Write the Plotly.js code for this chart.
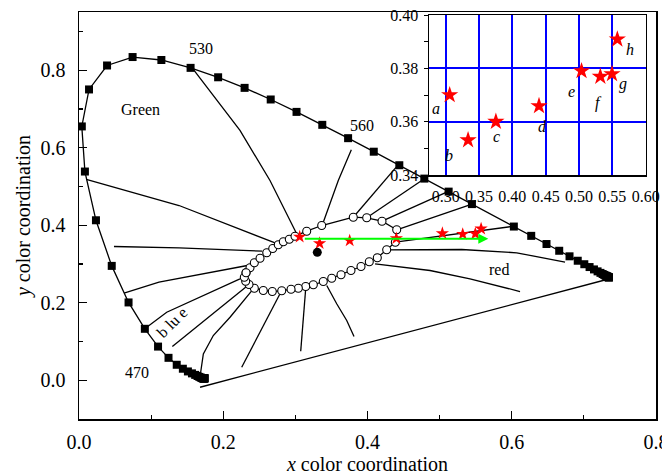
<!DOCTYPE html>
<html>
<head>
<meta charset="utf-8">
<script src="https://cdn.plot.ly/plotly-3.0.1.min.js"></script>
<style>html,body{margin:0;padding:0;background:#fff;}#chart{width:662px;height:476px;}</style>
</head>
<body>
<div id="chart"></div>
<script>
// Spectral locus (nm, x, y)
const wavelengths = [380,385,390,395,400,405,410,415,420,425,430,435,440,445,450,455,460,465,470,475,480,485,490,495,500,505,510,515,520,525,530,535,540,545,550,555,560,565,570,575,580,585,595,600,605,610,615,620,625,630,635,640,645,650,655,660,665,670,675,680,685,690,695,700];
const locusX = [0.1741,0.1740,0.1738,0.1736,0.1733,0.1730,0.1726,0.1721,0.1714,0.1703,0.1689,0.1669,0.1644,0.1611,0.1566,0.1510,0.1440,0.1355,0.1241,0.1096,0.0913,0.0687,0.0454,0.0235,0.0082,0.0039,0.0139,0.0389,0.0743,0.1142,0.1547,0.1929,0.2296,0.2658,0.3016,0.3373,0.3731,0.4087,0.4441,0.4788,0.5125,0.5448,0.6029,0.6270,0.6482,0.6658,0.6801,0.6915,0.7006,0.7079,0.7140,0.7190,0.7230,0.7260,0.7283,0.7300,0.7311,0.7320,0.7327,0.7334,0.7340,0.7344,0.7346,0.7347];
const locusY = [0.0050,0.0050,0.0049,0.0049,0.0048,0.0048,0.0048,0.0048,0.0051,0.0058,0.0069,0.0086,0.0109,0.0138,0.0177,0.0227,0.0297,0.0399,0.0578,0.0868,0.1327,0.2007,0.2950,0.4127,0.5384,0.6548,0.7502,0.8120,0.8338,0.8262,0.8059,0.7816,0.7543,0.7243,0.6923,0.6589,0.6245,0.5896,0.5547,0.5202,0.4866,0.4544,0.3965,0.3725,0.3514,0.3340,0.3197,0.3083,0.2993,0.2920,0.2859,0.2809,0.2770,0.2740,0.2717,0.2700,0.2689,0.2680,0.2673,0.2666,0.2660,0.2656,0.2654,0.2653];

// Open-circle loop
const loopX = [0.2316,0.2371,0.2431,0.2510,0.2603,0.2686,0.2763,0.2833,0.2916,0.2995,0.3157,0.3365,0.3803,0.3989,0.4201,0.4405,0.4386,0.4266,0.4136,0.4025,0.3910,0.3771,0.3633,0.3504,0.3387,0.3249,0.3143,0.3041,0.2940,0.2811,0.2680,0.2555,0.2431,0.2357,0.2311,0.2292,0.2316];
const loopY = [0.2772,0.2901,0.3030,0.3148,0.3288,0.3399,0.3494,0.3572,0.3639,0.3716,0.3845,0.3992,0.4206,0.4191,0.4103,0.3881,0.3561,0.3365,0.3159,0.3055,0.2934,0.2831,0.2720,0.2632,0.2547,0.2462,0.2418,0.2374,0.2348,0.2307,0.2289,0.2315,0.2374,0.2470,0.2555,0.2658,0.2772];

// Sample points (stars)
const sampleNames = ['a','b','c','d','e','f','g','h'];
const sampleX = [0.306,0.3336,0.3753,0.440,0.5038,0.532,0.5495,0.5575];
const sampleY = [0.370,0.3531,0.360,0.3659,0.379,0.3769,0.3779,0.3909];
const sampleLabelX = [0.286,0.3045,0.3764,0.445,0.4883,0.5294,0.5655,0.5771];
const sampleLabelY = [0.3651,0.3475,0.3544,0.3581,0.3712,0.3669,0.374,0.3871];

// White point
const whiteX = [0.3304];
const whiteY = [0.330];

// Radiating lines
const isoLineX = [
  [0.1553,0.2232,0.2648,0.2856,0.3023],
  [0.3776,0.3595,0.3387],
  [0.4395,0.3803],
  [0.4798,0.3989],
  [0.5130,0.4201],
  [0.5459,0.4405],
  [0.4386,0.6032],
  [0.4266,0.5306,0.6069,0.6739],
  [0.4105,0.4867,0.5421,0.6115],
  [0.1678,0.7317],
  [0.3435,0.3573,0.3712,0.3813],
  [0.3143,0.3074],
  [0.2787,0.2256],
  [0.2417,0.2094,0.1862,0.1724,0.1687],
  [0.2357,0.1294],
  [0.0939,0.1216,0.2232],
  [0.0624,0.1109,0.2334],
  [0.0485,0.1387,0.2542],
  [0.0101,0.0555,0.1387,0.2727]
];
const isoLineY = [
  [0.8096,0.6444,0.5153,0.4379,0.3760],
  [0.5946,0.5154,0.4077],
  [0.5490,0.4206],
  [0.5213,0.4191],
  [0.4877,0.4103],
  [0.4552,0.3881],
  [0.3561,0.3974],
  [0.3365,0.3373,0.3288,0.3045],
  [0.3004,0.2831,0.2617,0.2289],
  [-0.0181,0.2599],
  [0.2444,0.1972,0.1541,0.1128],
  [0.2359,0.0748],
  [0.2230,0.0335],
  [0.2359,0.1626,0.1154,0.0681,0.0206],
  [0.2470,0.0870],
  [0.1368,0.1755,0.2617],
  [0.2245,0.2529,0.2960],
  [0.3450,0.3417,0.3329],
  [0.5179,0.4939,0.4508,0.3535]
];

// Green arrow
const arrowX = [0.3110,0.5675];
const arrowY = [0.365,0.365];

// Region labels
const regionText = ['530','560','Green','470','b lu e','red'];
const regionX = [0.1692,0.3920,0.0846,0.0808,0.1285,0.5828];
const regionY = [0.8552,0.6573,0.6986,0.0191,0.1497,0.2849];
const regionAngle = [0,0,0,0,-45,0];

// Tick values
const mainXTicks = [0,0.2,0.4,0.6,0.8];
const mainYTicks = [0,0.2,0.4,0.6,0.8];
const insetXTicks = [0.30,0.35,0.40,0.45,0.50,0.55,0.60];
const insetYTicks = [0.34,0.36,0.38,0.40];

const FONT = '"Liberation Serif","Times New Roman",serif';
const traces = [];
isoLineX.forEach((xs, i) => {
  traces.push({x: xs, y: isoLineY[i], mode: 'lines', type: 'scatter', line: {color: 'black', width: 1.3}, hoverinfo: 'skip', showlegend: false});
});
traces.push({x: locusX, y: locusY, text: wavelengths, mode: 'lines+markers', type: 'scatter',
  line: {color: 'black', width: 1.3}, marker: {symbol: 'square', size: 8, color: 'black'}, showlegend: false});
traces.push({x: loopX, y: loopY, mode: 'lines+markers', type: 'scatter',
  line: {color: 'black', width: 1.3}, marker: {symbol: 'circle', size: 8, color: 'white', line: {color: 'black', width: 1.1}}, showlegend: false});
traces.push({x: sampleX, y: sampleY, mode: 'markers', type: 'scatter',
  marker: {symbol: 'star', size: 10, color: 'red'}, showlegend: false});
traces.push({x: whiteX, y: whiteY, mode: 'markers', type: 'scatter',
  marker: {symbol: 'circle', size: 9, color: 'black'}, showlegend: false});
traces.push({x: sampleX, y: sampleY, xaxis: 'x2', yaxis: 'y2', mode: 'markers', type: 'scatter',
  marker: {symbol: 'star', size: 13, color: 'red'}, showlegend: false});

const annotations = [];
regionText.forEach((t, i) => {
  annotations.push({x: regionX[i], y: regionY[i], xref: 'x', yref: 'y', text: t, showarrow: false,
    textangle: regionAngle[i], font: {family: FONT, size: 16, color: 'black'}});
});
sampleNames.forEach((t, i) => {
  annotations.push({x: sampleLabelX[i], y: sampleLabelY[i], xref: 'x2', yref: 'y2', text: '<i>' + t + '</i>', showarrow: false,
    font: {family: FONT, size: 16, color: 'black'}});
});
annotations.push({x: arrowX[1], y: arrowY[1], ax: arrowX[0], ay: arrowY[0], xref: 'x', yref: 'y', axref: 'x', ayref: 'y',
  text: '', showarrow: true, arrowhead: 2, arrowsize: 1, arrowwidth: 2, arrowcolor: '#00ff00', standoff: 0, startstandoff: 0});

const layout = {
  width: 662, height: 476,
  margin: {l: 79, r: 6, t: 12, b: 57},
  paper_bgcolor: 'white', plot_bgcolor: 'white',
  showlegend: false,
  font: {family: FONT, color: 'black'},
  xaxis: {
    range: [0, 0.8], showgrid: false, zeroline: false,
    showline: true, linecolor: 'black', linewidth: 1.5, mirror: true,
    tickvals: mainXTicks, tickformat: '.1f', ticks: 'inside', ticklen: 8, tickcolor: 'black', tickwidth: 1.2,
    minor: {dtick: 0.1, tick0: 0, ticks: 'inside', ticklen: 4, tickcolor: 'black', tickwidth: 1.2, showgrid: false},
    tickfont: {family: FONT, size: 20, color: 'black'}, ticklabelstandoff: 4, ticklabeloverflow: 'allow',
    title: {text: '<i>x</i> color coordination', font: {family: FONT, size: 20, color: 'black'}, standoff: 2}
  },
  yaxis: {
    range: [-0.1, 0.95], showgrid: false, zeroline: false,
    showline: true, linecolor: 'black', linewidth: 1.5, mirror: true,
    tickvals: mainYTicks, tickformat: '.1f', ticks: 'inside', ticklen: 8, tickcolor: 'black', tickwidth: 1.2,
    minor: {dtick: 0.1, tick0: 0, ticks: 'inside', ticklen: 4, tickcolor: 'black', tickwidth: 1.2, showgrid: false},
    tickfont: {family: FONT, size: 20, color: 'black'}, ticklabelstandoff: 8,
    title: {text: '<i>y</i> color coordination', font: {family: FONT, size: 20, color: 'black'}, standoff: 4}
  },
  xaxis2: {
    domain: [0.6066, 0.9821], anchor: 'y2', range: [0.275, 0.60],
    showgrid: true, gridcolor: '#0000ff', gridwidth: 2, zeroline: false,
    showline: true, linecolor: 'black', linewidth: 1.5, mirror: true,
    tickvals: insetXTicks, tickformat: '.2f', ticks: '',
    tickfont: {family: FONT, size: 16, color: 'black'}, ticklabelstandoff: 6
  },
  yaxis2: {
    domain: [0.5995, 0.9926], anchor: 'x2', range: [0.34, 0.40],
    showgrid: true, gridcolor: '#0000ff', gridwidth: 2, zeroline: false,
    showline: true, linecolor: 'black', linewidth: 1.5, mirror: true,
    tickvals: insetYTicks, tickformat: '.2f', ticks: '',
    minor: {dtick: 0.01, tick0: 0.34, ticks: 'outside', ticklen: 4, tickcolor: 'black', showgrid: false},
    tickfont: {family: FONT, size: 16, color: 'black'}, ticklabelstandoff: 6
  },
  annotations: annotations
};

Plotly.newPlot('chart', traces, layout, {displayModeBar: false, staticPlot: true});
</script>
</body>
</html>
